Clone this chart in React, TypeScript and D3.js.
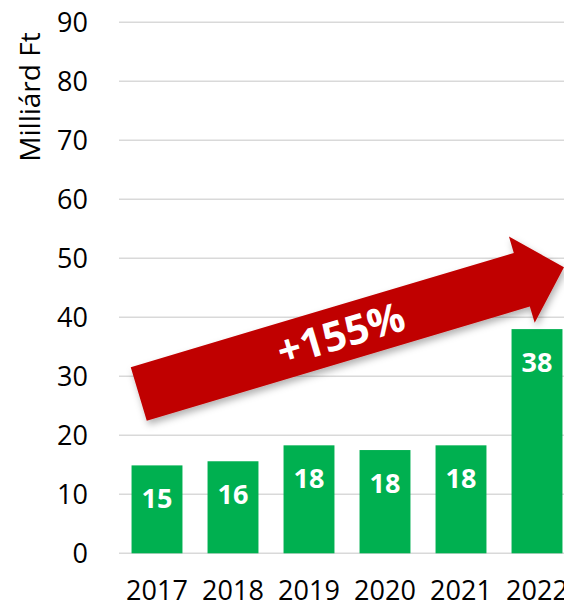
import React from "react";
import * as d3 from "d3";

const years = ["2017", "2018", "2019", "2020", "2021", "2022"];
const values = [14.9, 15.6, 18.3, 17.5, 18.3, 38.0];
const labels = ["15", "16", "18", "18", "18", "38"];
const yTicks = [0, 10, 20, 30, 40, 50, 60, 70, 80, 90];
const yTitle = "Milliárd Ft";
const arrowText = "+155%";
// arrow annotation anchors in data space: [year, fraction of step, value]
const arrowFrom: [string, number, number] = ["2017", 0.26, 27.0];
const arrowTo: [string, number, number] = ["2022", 0.855, 48.5];

const W = 564;
const H = 608;
const FONT = "'Open Sans', 'DejaVu Sans', sans-serif";

export default function App() {
  const x = d3.scaleBand<string>().domain(years).range([119, 575]).paddingInner(0.33).paddingOuter(0.165);
  const y = d3.scaleLinear().domain([0, 90]).range([553.3, 22.3]);
  const step = x.step();
  const stepStart = (i: number) => 119 + i * step;

  const px = (a: [string, number, number]) => [stepStart(years.indexOf(a[0])) + a[1] * step, y(a[2])];
  const [sx, sy] = px(arrowFrom);
  const [tx, ty] = px(arrowTo);
  const dx = tx - sx, dy = ty - sy;
  const len = Math.hypot(dx, dy);
  const ux = dx / len, uy = dy / len;
  const nx = -uy, ny = ux; // normal
  const shaftW = 56, headW = 90, headL = 44;
  const bx = tx - ux * headL, by = ty - uy * headL;
  const pts = [
    [sx + nx * shaftW / 2, sy + ny * shaftW / 2],
    [bx + nx * shaftW / 2, by + ny * shaftW / 2],
    [bx + nx * headW / 2, by + ny * headW / 2],
    [tx, ty],
    [bx - nx * headW / 2, by - ny * headW / 2],
    [bx - nx * shaftW / 2, by - ny * shaftW / 2],
    [sx - nx * shaftW / 2, sy - ny * shaftW / 2],
  ];
  const angle = (Math.atan2(dy, dx) * 180) / Math.PI;
  const textPos = [sx + ux * (len * 0.475), sy + uy * (len * 0.475)];

  return (
    <svg width={W} height={H} style={{ position: "absolute", left: 0, top: 0, background: "#fff" }}>
      <defs>
        <filter id="sh" x="-10%" y="-20%" width="130%" height="160%">
          <feDropShadow dx="2" dy="4" stdDeviation="3.5" floodColor="#000" floodOpacity="0.3" />
        </filter>
      </defs>
      {yTicks.map((t) => (
        <g key={t}>
          <line x1={119} x2={W} y1={y(t)} y2={y(t)} stroke="#d9d9d9" strokeWidth={1.5} />
          <text x={88} y={y(t)} dy="0.36em" textAnchor="end" fontFamily={FONT} fontSize={27} fill="#000">
            {t}
          </text>
        </g>
      ))}
      <text
        transform={`translate(30,97) rotate(-90)`}
        textAnchor="middle"
        dy="0.36em"
        fontFamily={FONT}
        fontSize={28}
        fill="#000"
      >
        {yTitle}
      </text>
      {years.map((yr, i) => (
        <g key={yr}>
          <rect x={x(yr)} y={y(values[i])} width={x.bandwidth()} height={y(0) - y(values[i])} fill="#00b050" />
          <text
            x={(x(yr) as number) + x.bandwidth() / 2}
            y={y(values[i]) + 33}
            dy="0.36em"
            textAnchor="middle"
            fontFamily={FONT}
            fontWeight="bold"
            fontSize={27}
            fill="#fff"
          >
            {labels[i]}
          </text>
          <text
            x={(x(yr) as number) + x.bandwidth() / 2}
            y={600}
            textAnchor="middle"
            fontFamily={FONT}
            fontSize={27}
            fill="#000"
          >
            {yr}
          </text>
        </g>
      ))}
      <polygon points={pts.map((p) => p.join(",")).join(" ")} fill="#c00000" filter="url(#sh)" />
      <text
        transform={`translate(${textPos[0]},${textPos[1]}) rotate(${angle})`}
        textAnchor="middle"
        dy="0.36em"
        fontFamily={FONT}
        fontWeight="bold"
        fontSize={41}
        fill="#fff"
      >
        {arrowText}
      </text>
    </svg>
  );
}
